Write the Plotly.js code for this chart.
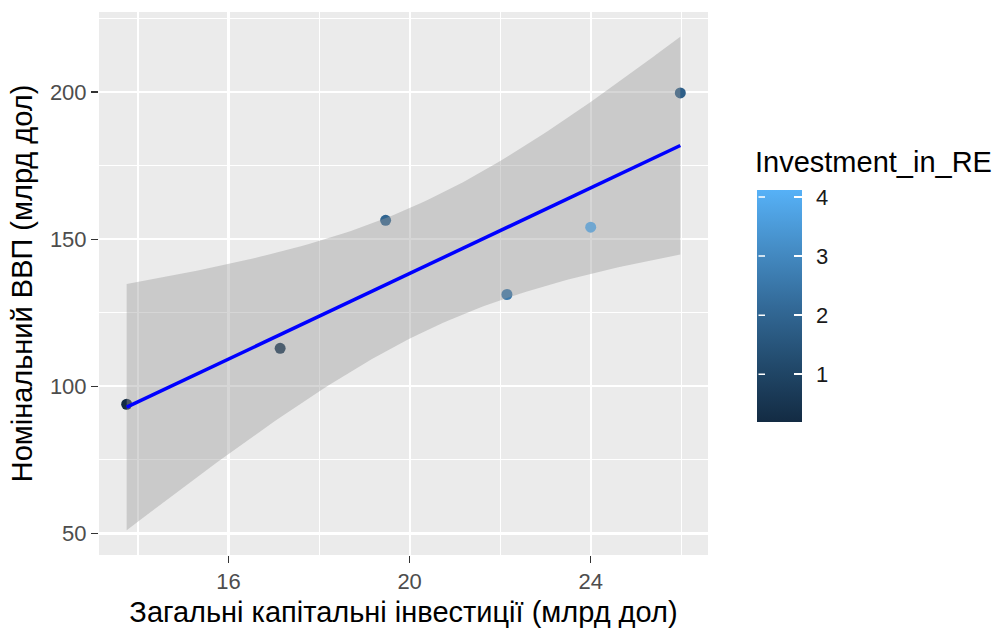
<!DOCTYPE html>
<html>
<head>
<meta charset="utf-8">
<script src="https://cdn.plot.ly/plotly-3.0.1.min.js"></script>
<style>html,body{margin:0;padding:0;background:#fff;}#chart{width:997px;height:637px;}</style>
</head>
<body>
<div id="chart"></div>
<script>
// Data
const capitalInvestment = [13.75, 17.14, 19.47, 22.15, 24.00, 25.98]; // Загальні капітальні інвестиції (млрд дол)
const nominalGDP        = [93.9, 112.9, 156.4, 131.2, 154.1, 199.7];  // Номінальний ВВП (млрд дол)
const investmentInRE    = [0.19, 0.6, 2.0, 2.6, 4.12, 1.8];           // Investment_in_RE
const xTicks = [16, 20, 24];
const yTicks = [50, 100, 150, 200];
const cbTicks = [1, 2, 3, 4];

// Linear model (geom_smooth(method = "lm")) with 95% confidence band
const n = capitalInvestment.length;
const mx = capitalInvestment.reduce((a, b) => a + b, 0) / n;
const my = nominalGDP.reduce((a, b) => a + b, 0) / n;
let sxx = 0, sxy = 0;
for (let i = 0; i < n; i++) {
  sxx += (capitalInvestment[i] - mx) ** 2;
  sxy += (capitalInvestment[i] - mx) * (nominalGDP[i] - my);
}
const slope = sxy / sxx, icpt = my - slope * mx;
let sse = 0;
for (let i = 0; i < n; i++) sse += (nominalGDP[i] - (icpt + slope * capitalInvestment[i])) ** 2;
const s = Math.sqrt(sse / (n - 2));
const tcrit = 2.776445; // qt(0.975, 4)
const xMin = Math.min(...capitalInvestment), xMax = Math.max(...capitalInvestment);
const fx = [], fy = [], lo = [], hi = [];
for (let k = 0; k < 80; k++) {
  const x = xMin + (xMax - xMin) * k / 79;
  const yhat = icpt + slope * x;
  const se = s * Math.sqrt(1 / n + (x - mx) ** 2 / sxx);
  fx.push(x); fy.push(yhat); lo.push(yhat - tcrit * se); hi.push(yhat + tcrit * se);
}
const bandX = fx.concat(fx.slice().reverse());
const bandY = hi.concat(lo.slice().reverse());

const xr = [xMin - 0.05 * (xMax - xMin), xMax + 0.05 * (xMax - xMin)];
const yLo = Math.min(...lo, ...nominalGDP), yHi = Math.max(...hi, ...nominalGDP);
const yr = [yLo - 0.05 * (yHi - yLo), yHi + 0.05 * (yHi - yLo)];

const cmin = Math.min(...investmentInRE), cmax = Math.max(...investmentInRE);
const colorscale = [[0, '#132B43'], [0.25, '#224A6C'], [0.5, '#336A98'], [0.75, '#458DC6'], [1, '#56B1F7']];

// plot area geometry (px)
const L = 99, R = 289, T = 12, B = 82, W = 997 - L - R, H = 637 - T - B;
const cbLeft = 757, cbThick = 45, cbLen = 232, cbCenter = 306;
const cbX = (cbLeft - L) / W;
const cbY = (637 - B - cbCenter) / H;

const annotations = [{
  text: 'Investment_in_RE', xref: 'paper', yref: 'paper', x: cbX - 4 / W, y: cbY + (cbLen / 2 + 10) / H,
  xanchor: 'left', yanchor: 'bottom', showarrow: false,
  font: {family: 'Liberation Sans, Arial, sans-serif', size: 29, color: '#000000'}
}];
cbTicks.forEach(v => {
  const yp = cbY + ((v - cmin) / (cmax - cmin) - 0.5) * cbLen / H;
  // white tick mark on the left side of the colour bar
  annotations.push({xref: 'paper', yref: 'paper', x: cbX + 8 / W, y: yp, text: '',
    showarrow: true, arrowhead: 0, arrowwidth: 1.5, arrowcolor: '#ffffff', ax: -8, ay: 0,
    standoff: 0, startstandoff: 0});
  // tick label
  annotations.push({xref: 'paper', yref: 'paper', x: cbX + (cbThick + 12) / W, y: yp, text: String(v),
    xanchor: 'left', yanchor: 'middle', showarrow: false,
    font: {family: 'Liberation Sans, Arial, sans-serif', size: 22, color: '#1a1a1a'}});
});

const traces = [
  {
    x: capitalInvestment, y: nominalGDP, type: 'scatter', mode: 'markers',
    marker: {size: 11, color: investmentInRE, colorscale: colorscale, cmin: cmin, cmax: cmax,
      line: {width: 0}, showscale: true,
      colorbar: {x: cbX, xanchor: 'left', xpad: 0, y: cbY, yanchor: 'middle', ypad: 0,
        lenmode: 'pixels', len: cbLen, thickness: cbThick, outlinewidth: 0,
        tickvals: cbTicks, ticks: 'inside', ticklen: 8, tickcolor: '#ffffff', tickwidth: 1.5,
        showticklabels: false, title: {text: ''}}},
    hoverinfo: 'x+y', showlegend: false
  },
  {
    x: bandX, y: bandY, type: 'scatter', mode: 'lines', fill: 'toself', xaxis: 'x2', yaxis: 'y2',
    fillcolor: 'rgba(153,153,153,0.4)', line: {width: 0}, hoverinfo: 'skip', showlegend: false
  },
  {
    x: fx, y: fy, type: 'scatter', mode: 'lines', line: {color: '#0000FF', width: 3.5},
    xaxis: 'x2', yaxis: 'y2', hoverinfo: 'skip', showlegend: false
  }
];

const axisCommon = {
  showgrid: true, gridcolor: '#ffffff', gridwidth: 2.2, zeroline: false, showline: false,
  ticks: 'outside', ticklen: 7, tickwidth: 1.2, tickcolor: '#333333',
  tickfont: {family: 'Liberation Sans, Arial, sans-serif', size: 22, color: '#4D4D4D'}
};

const layout = {
  width: 997, height: 637,
  margin: {l: L, r: R, t: T, b: B, pad: 0},
  paper_bgcolor: '#ffffff', plot_bgcolor: '#EBEBEB',
  font: {family: 'Liberation Sans, Arial, sans-serif'},
  xaxis: Object.assign({}, axisCommon, {
    range: xr, tickvals: xTicks,
    minor: {dtick: 2, tick0: 0, showgrid: true, gridcolor: '#ffffff', gridwidth: 1.1, ticks: ''},
    title: {text: 'Загальні капітальні інвестиції (млрд дол)', font: {size: 29, color: '#000000'}, standoff: 8}
  }),
  yaxis: Object.assign({}, axisCommon, {
    range: yr, tickvals: yTicks,
    minor: {dtick: 25, tick0: 0, showgrid: true, gridcolor: '#ffffff', gridwidth: 1.1, ticks: ''},
    title: {text: 'Номінальний ВВП (млрд дол)', font: {size: 29, color: '#000000'}, standoff: 8}
  }),
  xaxis2: {overlaying: 'x', range: xr, visible: false, showgrid: false, zeroline: false},
  yaxis2: {overlaying: 'y', range: yr, visible: false, showgrid: false, zeroline: false},
  annotations: annotations
};

Plotly.newPlot('chart', traces, layout, {displayModeBar: false, staticPlot: true});
</script>
</body>
</html>
